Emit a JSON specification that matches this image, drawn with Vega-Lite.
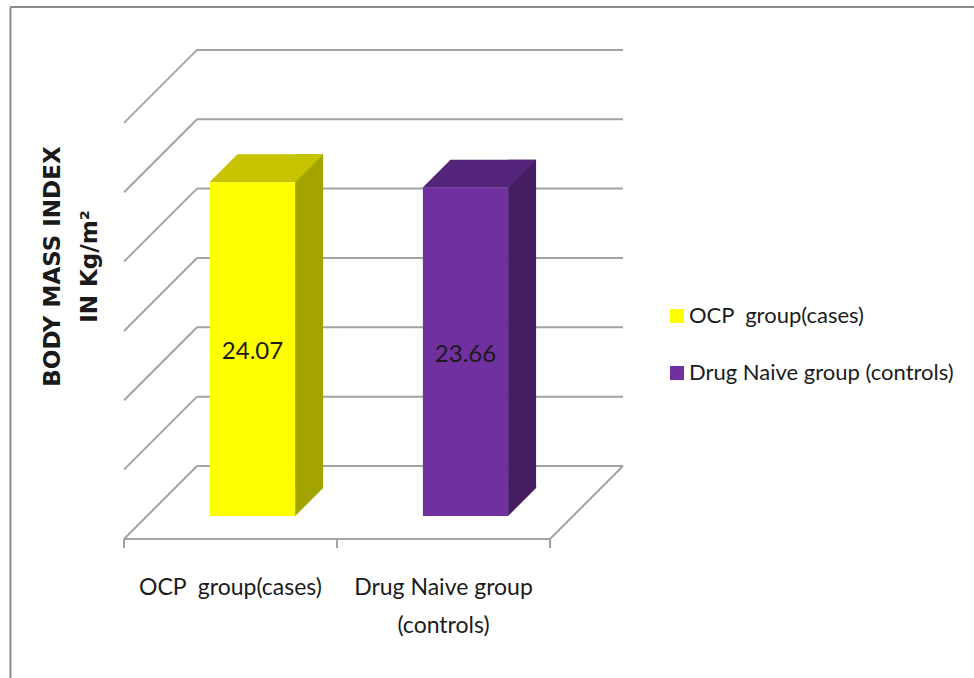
{
  "$schema": "https://vega.github.io/schema/vega-lite/v6.json",
  "width": 964,
  "height": 671,
  "autosize": "none",
  "padding": {"left": 10, "top": 7, "right": 0, "bottom": 0},
  "background": "white",
  "config": {"view": {"stroke": null}, "font": "Lato"},
  "datasets": {
    "bmi": [
      {"group": "OCP  group(cases)", "bmi": 24.07},
      {"group": "Drug Naive group (controls)", "bmi": 23.66}
    ],
    "grid": [{"v": 0}, {"v": 5}, {"v": 10}, {"v": 15}, {"v": 20}, {"v": 25}, {"v": 30}]
  },
  "resolve": {"axis": {"x": "independent", "y": "independent"}},
  "layer": [
    {
      "data": {"values": [{}]},
      "mark": {"type": "rule", "color": "#8c8c8c", "strokeWidth": 2},
      "encoding": {
        "y": {"datum": 33.093, "type": "quantitative", "axis": null}
      }
    },
    {
      "data": {"name": "grid"},
      "mark": {"type": "rule", "color": "#a3a3a3", "strokeWidth": 2},
      "encoding": {
        "x": {"datum": "OCP  group(cases)", "type": "nominal", "bandPosition": -0.75, "axis": null},
        "x2": {"datum": "Drug Naive group (controls)", "bandPosition": 1.75},
        "y": {"field": "v", "type": "quantitative", "axis": null}
      }
    },
    {
      "data": {"name": "grid"},
      "mark": {"type": "rule", "color": "#a3a3a3", "strokeWidth": 2, "x2Offset": -73, "y2Offset": 73},
      "encoding": {
        "x": {"datum": "OCP  group(cases)", "type": "nominal", "bandPosition": -0.75, "axis": null},
        "x2": {"datum": "OCP  group(cases)", "bandPosition": -0.75},
        "y": {"field": "v", "type": "quantitative", "axis": null},
        "y2": {"field": "v"}
      }
    },
    {
      "data": {"name": "grid"},
      "transform": [{"filter": "datum.v === 0"}],
      "mark": {"type": "rule", "color": "#a3a3a3", "strokeWidth": 2, "xOffset": -73, "x2Offset": -73, "yOffset": 73, "y2Offset": 73},
      "encoding": {
        "x": {"datum": "OCP  group(cases)", "type": "nominal", "bandPosition": -0.75, "axis": null},
        "x2": {"datum": "Drug Naive group (controls)", "bandPosition": 1.75},
        "y": {"field": "v", "type": "quantitative", "axis": null},
        "y2": {"field": "v"}
      }
    },
    {
      "data": {"name": "grid"},
      "transform": [{"filter": "datum.v === 0"}],
      "mark": {"type": "rule", "color": "#a3a3a3", "strokeWidth": 2, "x2Offset": -73, "y2Offset": 73},
      "encoding": {
        "x": {"datum": "Drug Naive group (controls)", "type": "nominal", "bandPosition": 1.75, "axis": null},
        "x2": {"datum": "Drug Naive group (controls)", "bandPosition": 1.75},
        "y": {"field": "v", "type": "quantitative", "axis": null},
        "y2": {"field": "v"}
      }
    },
    {
      "data": {"name": "bmi"},
      "mark": {"type": "rule", "color": "#a3a3a3", "strokeWidth": 2, "xOffset": -73, "x2Offset": -73, "yOffset": 73, "y2Offset": 82},
      "encoding": {
        "x": {"field": "group", "type": "nominal", "bandPosition": -0.75, "axis": null},
        "x2": {"field": "group", "bandPosition": -0.75},
        "y": {"datum": 0, "type": "quantitative", "axis": null},
        "y2": {"datum": 0}
      }
    },
    {
      "data": {"name": "grid"},
      "transform": [{"filter": "datum.v === 0"}],
      "mark": {"type": "rule", "color": "#a3a3a3", "strokeWidth": 2, "xOffset": -73, "x2Offset": -73, "yOffset": 73, "y2Offset": 82},
      "encoding": {
        "x": {"datum": "Drug Naive group (controls)", "type": "nominal", "bandPosition": 1.75, "axis": null},
        "x2": {"datum": "Drug Naive group (controls)", "bandPosition": 1.75},
        "y": {"field": "v", "type": "quantitative", "axis": null},
        "y2": {"field": "v"}
      }
    },
    {
      "data": {"name": "bmi"},
      "mark": {"type": "bar", "width": 28, "xOffset": 5.6, "yOffset": 22, "y2Offset": 22},
      "encoding": {
        "x": {"field": "group", "type": "nominal", "axis": null},
        "y": {"field": "bmi", "type": "quantitative", "axis": null},
        "y2": {"datum": 0},
        "fill": {"condition": {"test": "datum.group === 'OCP  group(cases)'", "value": "#A3A300"}, "value": "#461F63"}
      }
    },
    {
      "data": {"name": "bmi"},
      "mark": {"type": "point", "shape": "M -1 -1.15 L 1 -1.15 L 1 -1 L -1 1 Z", "size": 784, "filled": true, "opacity": 1, "strokeWidth": 0, "xOffset": 5.6, "yOffset": 36},
      "encoding": {
        "x": {"field": "group", "type": "nominal", "axis": null},
        "y": {"datum": 0, "type": "quantitative", "axis": null},
        "fill": {"condition": {"test": "datum.group === 'OCP  group(cases)'", "value": "#A3A300"}, "value": "#461F63"}
      }
    },
    {
      "data": {"name": "bmi"},
      "mark": {"type": "point", "shape": "M -1 0.2456 L 0.5088 0.2456 L 1 -0.2456 L -0.5088 -0.2456 Z", "size": 12996, "filled": true, "opacity": 1, "strokeWidth": 0, "xOffset": -37, "yOffset": 36},
      "encoding": {
        "x": {"field": "group", "type": "nominal", "axis": null},
        "y": {"field": "bmi", "type": "quantitative", "axis": null},
        "fill": {"condition": {"test": "datum.group === 'OCP  group(cases)'", "value": "#C6C400"}, "value": "#54247A"}
      }
    },
    {
      "data": {"name": "bmi"},
      "mark": {"type": "bar", "xOffset": -51, "x2Offset": -51, "yOffset": 50, "y2Offset": 50, "opacity": 1},
      "encoding": {
        "x": {
          "field": "group", "type": "nominal",
          "scale": {"type": "band", "domain": ["OCP  group(cases)", "Drug Naive group (controls)"], "range": [187, 613], "paddingInner": 0.6, "paddingOuter": 0.3},
          "axis": {
            "orient": "bottom", "position": -73, "offset": -140, "domain": false, "grid": false, "ticks": false,
            "labelPadding": 38, "labelAngle": 0, "labelLimit": 0, "labelBaseline": "top",
            "labelFont": "Lato", "labelFontSize": 23, "labelColor": "#1b1b1b", "labelLineHeight": 38,
            "labelExpr": "datum.label == 'Drug Naive group (controls)' ? ['Drug Naive group', '(controls)'] : replace(datum.label, '  ', '\u00a0 ')",
            "title": null
          }
        },
        "y": {
          "field": "bmi", "type": "quantitative",
          "scale": {"domain": [-15.285, 33.093], "nice": false, "zero": false},
          "axis": {
            "orient": "left", "domain": true, "domainColor": "#8c8c8c", "domainWidth": 2,
            "ticks": false, "labels": false, "grid": false,
            "title": ["BODY MASS INDEX", "IN Kg/m²"],
            "titleFont": "DejaVu Sans", "titleFontWeight": "bold", "titleFontSize": 23, "titleColor": "#1a1a1a",
            "titleLineHeight": 37, "titleX": 42, "titleY": 259, "titleAngle": -90, "titleAlign": "center", "titleBaseline": "middle"
          }
        },
        "y2": {"datum": 0},
        "color": {
          "field": "group", "type": "nominal",
          "scale": {"domain": ["OCP  group(cases)", "Drug Naive group (controls)"], "range": ["#FFFF00", "#7030A0"]},
          "legend": {
            "orient": "none", "legendX": 656, "legendY": 298, "title": null, "padding": 0,
            "symbolType": "square", "symbolSize": 196, "symbolStrokeWidth": 0, "symbolOpacity": 1,
            "labelFont": "Lato", "labelFontSize": 22, "labelColor": "#1b1b1b",
            "labelOffset": 1, "rowPadding": 35, "labelLimit": 0,
            "labelExpr": "replace(datum.label, '  ', '\u00a0 ')"
          }
        }
      }
    },
    {
      "data": {"name": "bmi"},
      "transform": [{"calculate": "datum.bmi / 2", "as": "mid"}],
      "mark": {"type": "text", "xOffset": -51, "yOffset": 53, "fontSize": 24, "font": "Lato", "color": "#1a1a1a", "baseline": "middle", "align": "center"},
      "encoding": {
        "x": {"field": "group", "type": "nominal", "axis": null},
        "y": {"field": "mid", "type": "quantitative", "axis": null},
        "text": {"field": "bmi", "type": "quantitative", "format": ".2f"}
      }
    }
  ]
}
